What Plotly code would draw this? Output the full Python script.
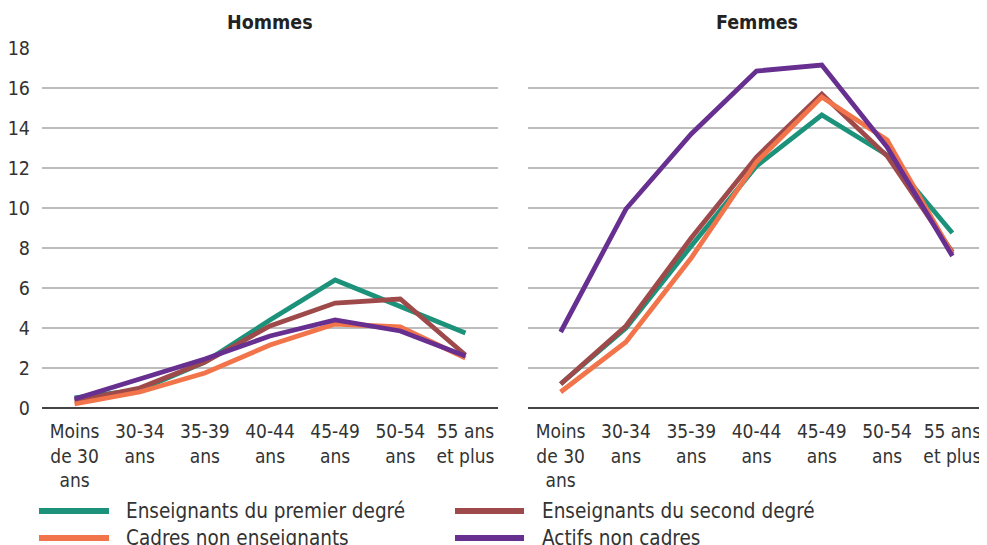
import plotly.graph_objects as go
from plotly.subplots import make_subplots

categories = ["Moins<br>de 30<br>ans", "30-34<br>ans", "35-39<br>ans", "40-44<br>ans",
              "45-49<br>ans", "50-54<br>ans", "55 ans<br>et plus"]
series_names = ["Enseignants du premier degré", "Enseignants du second degré",
                "Cadres non enseignants", "Actifs non cadres"]
colors = ["#1b9279", "#9e4a4b", "#f2744a", "#662f90"]

hommes_premier = [0.5, 0.9, 2.3, 4.4, 6.4, 5.1, 3.75]
hommes_second = [0.35, 1.0, 2.3, 4.1, 5.25, 5.45, 2.65]
hommes_cadres = [0.2, 0.8, 1.75, 3.15, 4.2, 4.05, 2.5]
hommes_actifs = [0.45, 1.45, 2.45, 3.6, 4.4, 3.85, 2.6]

femmes_premier = [1.2, 4.0, 8.1, 12.1, 14.65, 12.65, 8.75]
femmes_second = [1.2, 4.1, 8.5, 12.55, 15.7, 12.6, 7.8]
femmes_cadres = [0.8, 3.3, 7.5, 12.3, 15.55, 13.4, 7.7]
femmes_actifs = [3.8, 9.95, 13.7, 16.85, 17.15, 13.05, 7.6]

hommes = [hommes_premier, hommes_second, hommes_cadres, hommes_actifs]
femmes = [femmes_premier, femmes_second, femmes_cadres, femmes_actifs]

FONT = "DejaVu Sans Condensed, DejaVu Sans, sans-serif"
W, H = 987, 545
OFF = 8  # page body margin offset
TOP, BOT = 48 - OFF, 408 - OFF
PH = BOT - TOP


def px(x):
    return (x - OFF) / W


def py(y):
    return (BOT - (y - OFF)) / PH


fig = make_subplots(rows=1, cols=2)

for i, name in enumerate(series_names):
    fig.add_trace(go.Scatter(x=categories, y=hommes[i], mode="lines", name=name,
                             line=dict(color=colors[i], width=4.8), showlegend=False), row=1, col=1)
    fig.add_trace(go.Scatter(x=categories, y=femmes[i], mode="lines", name=name,
                             line=dict(color=colors[i], width=4.8), showlegend=False), row=1, col=2)

fig.update_xaxes(showgrid=False, tickfont=dict(family=FONT, size=19, color="#333"),
                 showline=False, zeroline=False, ticks="", automargin=False,
                 range=[-0.5, 6.5], ticklabelstandoff=10)
fig.update_xaxes(domain=[px(42), px(498)], row=1, col=1)
fig.update_xaxes(domain=[px(528), px(985)], row=1, col=2)
fig.update_yaxes(range=[0, 18], dtick=2, showgrid=True, gridcolor="#bdbdbd", gridwidth=1.5,
                 zeroline=True, zerolinecolor="#444", zerolinewidth=1.5, automargin=False,
                 tickfont=dict(family=FONT, size=19.5, color="#333"), ticks="",
                 ticklabelstandoff=11)
fig.update_yaxes(showticklabels=False, row=1, col=2)

annotations = [
    dict(text="<b>Hommes</b>", x=px(270), y=py(22), xref="paper", yref="paper",
         xanchor="center", yanchor="middle",
         showarrow=False, font=dict(family=FONT, size=19.5, color="#222")),
    dict(text="<b>Femmes</b>", x=px(757), y=py(22), xref="paper", yref="paper",
         xanchor="center", yanchor="middle",
         showarrow=False, font=dict(family=FONT, size=19.5, color="#222")),
]
shapes = []
legend_pos = [(39, 109, 124, 511), (455, 524, 540, 511), (39, 109, 124, 538), (455, 524, 540, 538)]
for i, name in enumerate(series_names):
    x0, x1, xt, yy = legend_pos[i]
    shapes.append(dict(type="line", xref="paper", yref="paper", x0=px(x0), x1=px(x1),
                       y0=py(yy), y1=py(yy), line=dict(color=colors[i], width=6)))
    annotations.append(dict(text=name, x=px(xt), y=py(yy), xref="paper", yref="paper",
                            xanchor="left", yanchor="middle", showarrow=False,
                            font=dict(family=FONT, size=20.5, color="#333")))

fig.update_layout(width=W, height=H, margin=dict(l=0, r=0, t=TOP, b=H - BOT),
                  paper_bgcolor="white", plot_bgcolor="white",
                  annotations=annotations, shapes=shapes, showlegend=False)
fig.write_html("out.html")
